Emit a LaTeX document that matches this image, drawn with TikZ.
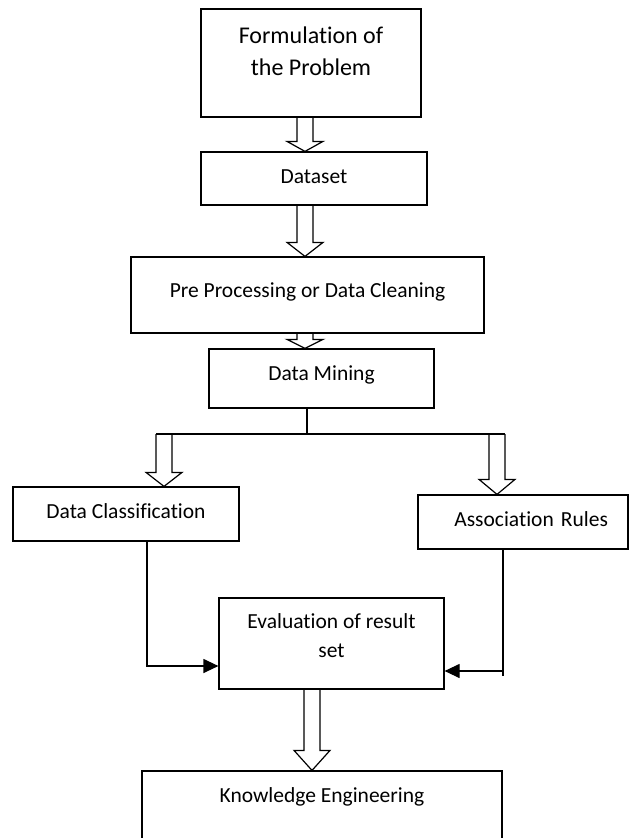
\documentclass[tikz,border=0pt]{standalone}
\usepackage{fontspec}
\setmainfont{Carlito}[Ligatures=NoCommon]
\usetikzlibrary{arrows.meta,calc}

% hollow block arrow between two points on one vertical
\newcommand{\FatArrow}[3][14]{%
  \draw let \p1=(#2), \p2=(#3) in
    (\x1-8,\y1) -- (\x1-8,\y2+#1) -- (\x1-18,\y2+#1) -- (\x1,\y2)
    -- (\x1+18,\y2+#1) -- (\x1+8,\y2+#1) -- (\x1+8,\y1);}

\begin{document}
\begin{tikzpicture}[x=1pt,y=-1pt,line width=1.2pt]

  \clip (0,0) rectangle (632,838);

  % node styles
  \tikzstyle{Box}=[
  draw,
  shape=rectangle,
  inner sep=0pt,
  align=center,
  font=\fontsize{21.5}{29}\selectfont,
  text height=15pt]

  \tikzstyle{Tip}=[-{Triangle[length=15pt,width=14pt]}]

  \node[Box,minimum width=220pt,minimum height=108pt,
        font=\fontsize{24}{32}\selectfont,text height=50pt,text depth=26pt]
        (F) at (311,63) {Formulation of\\the Problem};
  \node[Box,minimum width=226pt,minimum height=53pt,text depth=6pt]
        (D) at (314,178.5) {Dataset};
  \node[Box,minimum width=353pt,minimum height=76pt,text depth=11pt]
        (P) at (307.5,295) {Pre Processing or Data Cleaning};
  \node[Box,minimum width=225pt,minimum height=59pt,text depth=12pt]
        (M) at (321.5,378.5) {Data Mining};
  \node[Box,minimum width=226pt,minimum height=54pt,text depth=7pt]
        (C) at (126,514) {Data Classification};
  \node[Box,minimum width=210pt,minimum height=54pt,text depth=7pt,
        text width=170pt,align=right]
        (A) at (523,522) {Association Rules};
  \node[Box,minimum width=225pt,minimum height=91pt,text height=40pt,text depth=13pt]
        (E) at (331.5,643.5) {Evaluation of result\\set};
  \node[Box,minimum width=360pt,minimum height=71pt,text depth=24pt]
        (K) at (322,806.5) {Knowledge Engineering};

  % main chain
  \coordinate (S) at (305,0);
  \FatArrow[10]{F.south -| S}{D.north -| S}
  \FatArrow{D.south -| S}{P.north -| S}
  \FatArrow[9]{P.south -| S}{M.north -| S}

  % branch
  \coordinate (Y)  at (307,434);
  \coordinate (YL) at (164,434);
  \coordinate (YR) at (497,434);
  \draw (M.south -| Y) -- (Y);
  \draw ([xshift=-8pt]YL) -- ([xshift=8pt]YR);
  \FatArrow{YL}{C.north -| YL}
  \FatArrow[15]{YR}{A.north -| YR}

  % back to evaluation
  \coordinate (LC) at (147,666);
  \coordinate (RC) at (503,671);
  \draw[Tip] (C.south -| LC) -- (LC) -- (LC -| E.west);
  \draw (A.south -| RC) -- ([yshift=-5pt]RC);
  \draw[Tip] (RC) -- (RC -| E.east);

  \coordinate (T) at (312,0);
  \FatArrow[20]{E.south -| T}{K.north -| T}

\end{tikzpicture}
\end{document}
